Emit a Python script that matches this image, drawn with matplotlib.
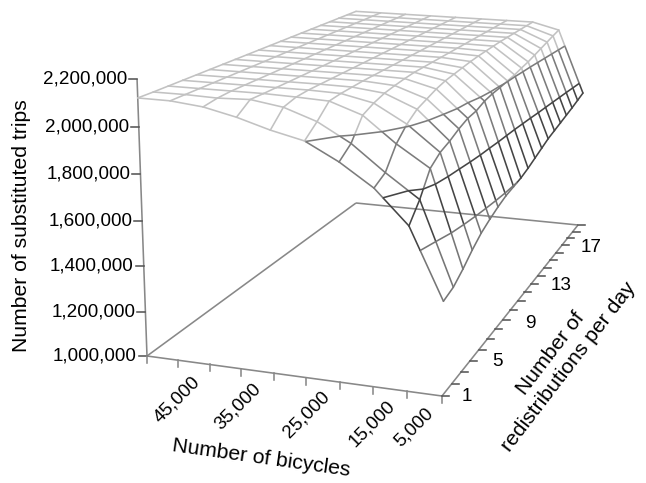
import numpy as np
import matplotlib
matplotlib.use("Agg")
import matplotlib.pyplot as plt
from matplotlib.lines import Line2D
from mpl_toolkits.mplot3d import Axes3D
from mpl_toolkits.mplot3d.art3d import Line3DCollection

# ---------- data ----------
bicycles = [50000, 45000, 40000, 35000, 30000, 25000, 20000, 15000, 10000, 5000]
redistributions = list(range(1, 21))
# trips (thousands) per number of redistributions = 1..20
trips_50k = [2121] + [2120] * 19
trips_45k = [2120] * 20
trips_40k = [2106, 2116] + [2120] * 18
trips_35k = [2075, 2121] + [2120] * 18
trips_30k = [2034, 2100, 2116] + [2120] * 17
trips_25k = [2002, 2052, 2110, 2116, 2118] + [2120] * 15
trips_20k = [1929, 1974, 2062, 2086, 2102, 2110, 2116] + [2120] * 13
trips_15k = [1836, 1866, 1954, 2008, 2044, 2062, 2080, 2092, 2098, 2104,
             2110, 2114, 2116, 2118, 2120, 2120, 2120, 2120, 2120, 2120]
trips_10k = [1696, 1768, 1864, 1900, 1918, 1942, 1960, 1966, 1984, 1992,
             1996, 2003, 2008, 2018, 2026, 2038, 2050, 2062, 2074, 2085]
trips_5k = [1401, 1416, 1451, 1493, 1528, 1552, 1572, 1588, 1596, 1604,
            1618, 1636, 1654, 1672, 1684, 1696, 1708, 1720, 1734, 1748]

z_ticks = [1000000, 1200000, 1400000, 1600000, 1800000, 2000000, 2200000]
bike_labels = ["45,000", "35,000", "25,000", "15,000", "5,000"]
bike_label_values = [45000, 35000, 25000, 15000, 5000]
redis_label_values = [1, 5, 9, 13, 17]

# ---------- layout ----------
W, H = 646, 483
plt.rcParams["font.family"] = ["Liberation Sans", "DejaVu Sans"]
FS = 13.6
FS_TITLE = 15.2
CORNERS = dict(A=(147, 356), B=(442, 396), C=(578, 225), D=(356, 203))
VERT = (-16.2, -280.7, -0.0456)   # homogeneous image of the vertical axis over its full range
BAND_LEVELS = [1400000, 1600000, 1800000, 2000000, 2200000]
BAND_COLORS = ["#767676", "#454545", "#7c7c7c", "#c2c2c2"]
AXIS_C, TICK_C = "#888888", "#555555"
LW = 1.15


def floor_homography():
    A, B, C, D = (np.array(CORNERS[k], float) for k in "ABCD")
    d1, d2, s = B - C, D - C, A - B + C - D
    det = d1[0] * d2[1] - d2[0] * d1[1]
    g = (s[0] * d2[1] - d2[0] * s[1]) / det
    h = (d1[0] * s[1] - s[0] * d1[1]) / det
    return np.array([[B[0] * (1 + g) - A[0], D[0] * (1 + h) - A[0], A[0]],
                     [B[1] * (1 + g) - A[1], D[1] * (1 + h) - A[1], A[1]],
                     [g, h, 1.0]])


Hf = floor_homography()
b0, b1 = bicycles[0], bicycles[-1]
r0, r1 = redistributions[0], redistributions[-1]
z0, z1 = z_ticks[0], z_ticks[-1]
N = np.array([[1 / (b1 - b0), 0, 0, -b0 / (b1 - b0)],
              [0, 1 / (r1 - r0), 0, -r0 / (r1 - r0)],
              [0, 0, 1 / (z1 - z0), -z0 / (z1 - z0)],
              [0, 0, 0, 1.0]])
P = np.array([[Hf[0, 0], Hf[0, 1], VERT[0], Hf[0, 2]],
              [Hf[1, 0], Hf[1, 1], VERT[1], Hf[1, 2]],
              [0, 0, 1, 0],
              [Hf[2, 0], Hf[2, 1], VERT[2], Hf[2, 2]]])
M = P @ N


class Fixed3D(Axes3D):
    """3D axes whose camera is fitted to the chart's perspective."""
    def get_proj(self):
        self.viewLim.intervalx = (0, W)
        self.viewLim.intervaly = (H, 0)
        return M

    def apply_aspect(self, position=None):
        pass


def project(b, r, t):
    v = M @ np.array([b, r, t, 1.0])
    return v[0] / v[3], v[1] / v[3]


fig = plt.figure(figsize=(W / 100, H / 100), dpi=100, facecolor="white")
ax = Fixed3D(fig, [0, 0, 1, 1], computed_zorder=False)
fig.add_axes(ax)
ax.set_axis_off()

T = np.array([trips_50k, trips_45k, trips_40k, trips_35k, trips_30k, trips_25k,
              trips_20k, trips_15k, trips_10k, trips_5k], float) * 1000
BB, RR = np.meshgrid(bicycles, redistributions, indexing="ij")

# axes frame
bmax, bmin = bicycles[0], bicycles[-1]
frame = [[(bmax, r0, z0), (bmin, r0, z0)], [(bmin, r0, z0), (bmin, r1, z0)],
         [(bmin, r1, z0), (bmax, r1, z0)], [(bmax, r1, z0), (bmax, r0, z0)],
         [(bmax, r0, z0), (bmax, r0, z1)]]
ax.add_collection3d(Line3DCollection(frame, colors=AXIS_C, linewidths=1.15, zorder=1), autolim=False)


# wireframe, each segment coloured by the 200,000 band it lies in
def split(p, q):
    ts = [0.0, 1.0]
    for lev in BAND_LEVELS:
        if (p[2] - lev) * (q[2] - lev) < 0:
            ts.append((lev - p[2]) / (q[2] - p[2]))
    ts = sorted(ts)
    p, q = np.array(p), np.array(q)
    for a, c in zip(ts[:-1], ts[1:]):
        yield p + a * (q - p), p + c * (q - p)


bands = [[] for _ in BAND_COLORS]
n, m = T.shape
pairs = []
for i in range(n):
    for j in range(m):
        if i + 1 < n:
            pairs.append(((i, j), (i + 1, j)))
        if j + 1 < m:
            pairs.append(((i, j), (i, j + 1)))
for a, c in pairs:
    p = (BB[a], RR[a], T[a])
    q = (BB[c], RR[c], T[c])
    for s, e in split(p, q):
        mid = (s[2] + e[2]) / 2
        k = int(np.clip(np.searchsorted(BAND_LEVELS, mid) - 1, 0, len(bands) - 1))
        bands[k].append([tuple(s), tuple(e)])
for segs, col in zip(bands, BAND_COLORS):
    ax.add_collection3d(Line3DCollection(segs, colors=col, linewidths=LW, zorder=3,
                                         capstyle="round"), autolim=False)
ax.contour(BB, RR, T, levels=BAND_LEVELS[1:4], colors=BAND_COLORS[:3], linewidths=LW, zorder=4)


def tick(x, y, dx, dy, color):
    ax.add_line(Line2D([x, x + dx], [y, y + dy], color=color, lw=1.15, zorder=2))


for z in z_ticks:
    x, y = project(bmax, r0, z)
    tick(x, y, -8, 0, TICK_C)
    ax.annotate(f"{z:,}", (x - 10, y), ha="right", va="center", fontsize=FS, color="black")

for b in bicycles:
    x, y = project(b, r0, z0)
    tick(x, y, 0, 7, AXIS_C)
for r in redistributions:
    x, y = project(bmin, r, z0)
    tick(x, y, 7, 0, TICK_C)

bike_off = [(-1, 39), (-4, 38), (0, 37), (-1, 37), (-28, 31)]
for b, s, (dx, dy) in zip(bike_label_values, bike_labels, bike_off):
    x, y = project(b, r0, z0)
    ax.annotate(s, (x + dx, y + dy), ha="center", va="center", rotation=45,
                rotation_mode="anchor", fontsize=FS, color="black")

redis_off = [(25, 1), (19, 12), (20, 13), (23, 10), (29, 2)]
for r, (dx, dy) in zip(redis_label_values, redis_off):
    x, y = project(bmin, r, z0)
    ax.annotate(str(r), (x + dx, y + dy), ha="center", va="center", fontsize=FS, color="black")

ax.annotate("Number of substituted trips", (22, 226), ha="center", va="center", rotation=90,
            fontsize=FS_TITLE, color="black")
ax.annotate("Number of bicycles", (261, 458), ha="center", va="center", rotation=-8,
            rotation_mode="anchor", fontsize=FS_TITLE, color="black")
ax.annotate("Number of\nredistributions per day", (560, 360), ha="center", va="center",
            rotation=52.5, rotation_mode="anchor", multialignment="center",
            fontsize=FS_TITLE, color="black", linespacing=1.22)

fig.savefig("out.png", dpi=100, facecolor="white")
